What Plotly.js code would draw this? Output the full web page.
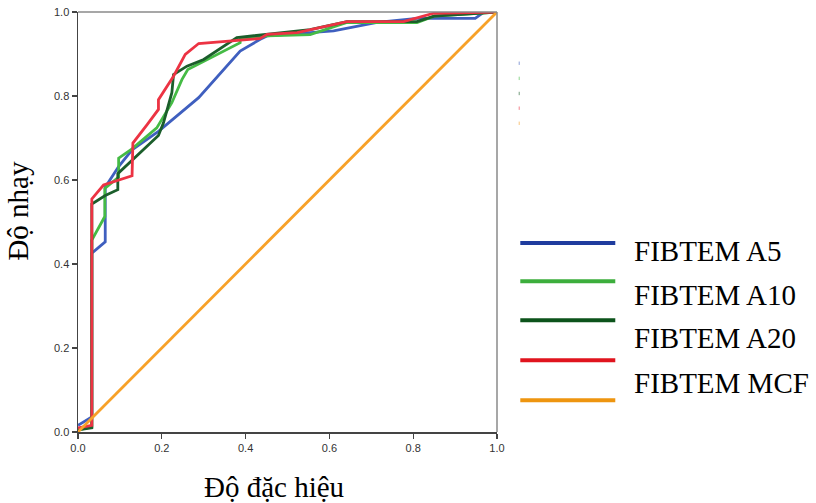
<!DOCTYPE html>
<html>
<head>
<meta charset="utf-8">
<script src="https://cdn.plot.ly/plotly-3.0.1.min.js"></script>
<style>html,body{margin:0;padding:0;background:#fff;}#chart{width:816px;height:503px;}</style>
</head>
<body>
<div id="chart"></div>
<script>
// 1 - specificity (x) and sensitivity (y) for each ROC curve
const a5X = [0, 0.033, 0.033, 0.065, 0.065, 0.097, 0.129, 0.192, 0.288, 0.387, 0.435, 0.451, 0.61, 0.714, 0.809, 0.948, 0.968, 1];
const a5Y = [0.016, 0.036, 0.426, 0.453, 0.583, 0.632, 0.672, 0.716, 0.796, 0.907, 0.935, 0.943, 0.955, 0.975, 0.985, 0.985, 0.999, 1];

const a10X = [0, 0.033, 0.033, 0.064, 0.064, 0.097, 0.097, 0.129, 0.188, 0.224, 0.248, 0.262, 0.387, 0.387, 0.451, 0.554, 0.642, 0.809, 0.85, 1];
const a10Y = [0.005, 0.012, 0.457, 0.513, 0.58, 0.607, 0.652, 0.674, 0.724, 0.784, 0.839, 0.863, 0.927, 0.935, 0.943, 0.946, 0.975, 0.975, 0.99, 1];

const a20X = [0, 0.033, 0.033, 0.065, 0.095, 0.095, 0.192, 0.204, 0.224, 0.228, 0.26, 0.3, 0.379, 0.451, 0.554, 0.642, 0.809, 0.85, 1];
const a20Y = [0.005, 0.01, 0.543, 0.563, 0.577, 0.615, 0.706, 0.736, 0.808, 0.851, 0.871, 0.887, 0.939, 0.947, 0.958, 0.977, 0.977, 0.99, 1];

const mcfX = [0, 0.033, 0.033, 0.061, 0.129, 0.131, 0.165, 0.192, 0.192, 0.228, 0.256, 0.288, 0.435, 0.451, 0.523, 0.642, 0.777, 0.849, 1];
const mcfY = [0.01, 0.016, 0.555, 0.588, 0.61, 0.688, 0.732, 0.768, 0.791, 0.847, 0.899, 0.925, 0.937, 0.947, 0.951, 0.977, 0.977, 0.997, 1];

const refX = [0, 1];
const refY = [0, 1];

const seriesNames = ["FIBTEM A5", "FIBTEM A10", "FIBTEM A20", "FIBTEM MCF", "Reference line"];
const legendLabels = ["FIBTEM A5", "FIBTEM A10", "FIBTEM A20", "FIBTEM MCF"];
const tickValues = [0, 0.2, 0.4, 0.6, 0.8, 1.0];
const tickLabels = ["0.0", "0.2", "0.4", "0.6", "0.8", "1.0"];
const xTitle = "Độ đặc hiệu";
const yTitle = "Độ nhạy";

const lineColors = ["#3f5fbf", "#45bb45", "#1b5e2b", "#ec3343", "#f7a128"];
const legendColors = ["#1f3c9e", "#3cae3c", "#0c531b", "#e0141e", "#ee950f"];

const xs = [a5X, a10X, a20X, mcfX, refX];
const ys = [a5Y, a10Y, a20Y, mcfY, refY];

const traces = xs.map((x, i) => ({
  x: x, y: ys[i], type: 'scatter', mode: 'lines', name: seriesNames[i],
  line: {color: lineColors[i], width: 2.8}, showlegend: false, hoverinfo: 'skip'
}));

const serif = "Liberation Serif, Times New Roman, serif";
const sans = "Liberation Sans, Arial, sans-serif";

// legend drawn in paper coordinates
const legLineY = [0.450, 0.359, 0.266, 0.171, 0.0756];
const legTextY = [0.431, 0.326, 0.223, 0.116];
const shapes = [
  {type: 'line', xref: 'paper', yref: 'paper', x0: 0, x1: 1, y0: 1, y1: 1, line: {color: '#8a8a8a', width: 1.5}},
  {type: 'line', xref: 'paper', yref: 'paper', x0: 1, x1: 1, y0: 0, y1: 1, line: {color: '#8a8a8a', width: 1.5}}
];
legLineY.forEach((y, i) => {
  shapes.push({type: 'line', xref: 'paper', yref: 'paper', x0: 1.0556, x1: 1.2823, y0: y, y1: y,
    line: {color: legendColors[i], width: 4}});
});
const tinyY = [0.878, 0.842, 0.806, 0.771, 0.735];
tinyY.forEach((y, i) => {
  shapes.push({type: 'line', xref: 'paper', yref: 'paper', x0: 1.053, x1: 1.053, y0: y - 0.004, y1: y + 0.004,
    line: {color: lineColors[i], width: 1}, opacity: 0.6});
});
const annotations = legendLabels.map((t, i) => ({
  text: t, xref: 'paper', yref: 'paper', x: 1.323, y: legTextY[i], xanchor: 'left', yanchor: 'middle',
  showarrow: false, font: {family: serif, size: 29, color: '#000'}
}));
// axis titles
annotations.push({
  text: xTitle, xref: 'paper', yref: 'paper', x: 0.4685, y: -0.131, xanchor: 'center', yanchor: 'middle',
  showarrow: false, font: {family: serif, size: 29, color: '#000'}
});
annotations.push({
  text: yTitle, xref: 'paper', yref: 'paper', x: -0.142, y: 0.526, xanchor: 'center', yanchor: 'middle',
  textangle: -90, showarrow: false, font: {family: serif, size: 29, color: '#000'}
});

const layout = {
  width: 816, height: 503,
  margin: {l: 78, r: 319, t: 12, b: 71, pad: 0},
  paper_bgcolor: '#fff', plot_bgcolor: '#fff',
  showlegend: false,
  xaxis: {
    range: [0, 1], tickvals: tickValues, ticktext: tickLabels, showgrid: false, zeroline: false,
    showline: true, linecolor: '#444', linewidth: 1.5, ticks: 'outside', ticklen: 5, tickcolor: '#444', tickwidth: 1.2,
    tickfont: {family: sans, size: 11, color: '#333'}
  },
  yaxis: {
    range: [0, 1], tickvals: tickValues, ticktext: tickLabels, showgrid: false, zeroline: false,
    showline: true, linecolor: '#444', linewidth: 1.5, ticks: 'outside', ticklen: 5, tickcolor: '#444', tickwidth: 1.2,
    tickfont: {family: sans, size: 11, color: '#333'}
  },
  shapes: shapes,
  annotations: annotations
};

Plotly.newPlot('chart', traces, layout, {staticPlot: true, displayModeBar: false});
</script>
</body>
</html>
